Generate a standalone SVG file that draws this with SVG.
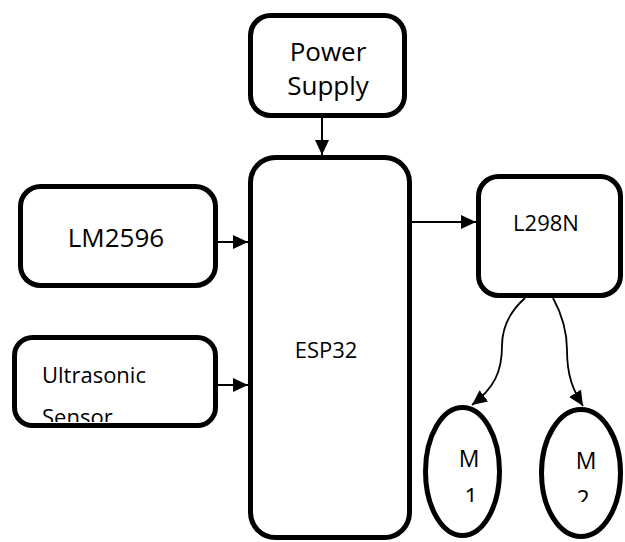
<svg xmlns="http://www.w3.org/2000/svg" width="625" height="542" viewBox="0 0 625 542">
<style>
.box{fill:#fff;stroke:#000;stroke-width:5}
.lbl{font-family:"Open Sans","Liberation Sans",sans-serif;fill:#000}
.con{fill:none;stroke:#000;stroke-width:2}
.crv{fill:none;stroke:#000;stroke-width:1.8}
</style>
<defs>
<marker id="ah" markerUnits="userSpaceOnUse" markerWidth="15" markerHeight="14" refX="15" refY="7" orient="auto">
<path d="M0,0 L15,7 L0,14 z" fill="#000"/>
</marker>
<clipPath id="clipUS"><rect x="14" y="337" width="202" height="85"/></clipPath>
<clipPath id="clipM"><rect x="400" y="400" width="225" height="102"/></clipPath>
</defs>
<rect width="625" height="542" fill="#fff"/>
<g id="connectors">
<line class="con" x1="322" y1="118" x2="322" y2="155" marker-end="url(#ah)"/>
<line class="con" x1="218" y1="242" x2="248" y2="242" marker-end="url(#ah)"/>
<line class="con" x1="218" y1="385" x2="248" y2="385" marker-end="url(#ah)"/>
<line class="con" x1="412" y1="222" x2="476" y2="222" marker-end="url(#ah)"/>
<path class="crv" d="M525,298 C507,314 502,330 502,346 C502,372 494,388 472,405" marker-end="url(#ah)"/>
<path class="crv" d="M553,298 C564,318 567,334 567,350 C567,376 573,390 583,406" marker-end="url(#ah)"/>
</g>
<g id="power">
<rect class="box" x="250.5" y="15.5" width="154" height="100" rx="20"/>
<text class="lbl" x="328" y="61" font-size="26" text-anchor="middle">Power</text>
<text class="lbl" x="328" y="95" font-size="26" text-anchor="middle">Supply</text>
</g>
<g id="esp32">
<rect class="box" x="250.5" y="157.5" width="159" height="380" rx="25"/>
<text class="lbl" x="326" y="358" font-size="22" text-anchor="middle">ESP32</text>
</g>
<g id="lm2596">
<rect class="box" x="20.5" y="186.5" width="195" height="99" rx="20"/>
<text class="lbl" x="116" y="247" font-size="26" text-anchor="middle">LM2596</text>
</g>
<g id="ultrasonic">
<rect class="box" x="14.5" y="337.5" width="201" height="88" rx="18"/>
<text class="lbl" x="42" y="383" font-size="22">Ultrasonic</text>
<text class="lbl" x="42" y="425" font-size="22" clip-path="url(#clipUS)">Sensor</text>
</g>
<g id="l298n">
<rect class="box" x="478.5" y="176.5" width="142" height="119" rx="20"/>
<text class="lbl" x="546" y="231" font-size="22" text-anchor="middle">L298N</text>
</g>
<g id="m1">
<ellipse class="box" cx="462.5" cy="471.5" rx="37" ry="64"/>
<text class="lbl" x="469" y="467" font-size="23" text-anchor="middle">M</text>
<text class="lbl" x="471" y="505" font-size="23" text-anchor="middle" clip-path="url(#clipM)">1</text>
</g>
<g id="m2">
<ellipse class="box" cx="581" cy="473" rx="39.5" ry="63.5"/>
<text class="lbl" x="586" y="469" font-size="23" text-anchor="middle">M</text>
<text class="lbl" x="583" y="507" font-size="23" text-anchor="middle" clip-path="url(#clipM)">2</text>
</g>
</svg>
